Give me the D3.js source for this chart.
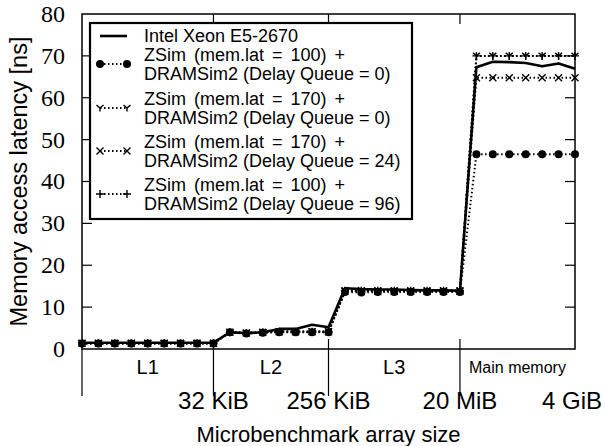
<!DOCTYPE html>
<html>
<head>
<meta charset="utf-8">
<script src="https://cdn.jsdelivr.net/npm/d3@7"></script>
<style>
  body { margin: 0; background: #fff; }
  svg { display: block; }
  .sans { font-family: "Liberation Sans", sans-serif; }
  .serif { font-family: "Liberation Serif", serif; }
</style>
</head>
<body>
<svg id="chart" width="605" height="446"></svg>
<script>
// x positions are just sample indices (0..30), evenly spaced along the axis
const regions = ["L1", "L2", "L3", "Main memory"];
const boundaryIdx = [8, 15, 23, 30];
const boundaryLabels = ["32 KiB", "256 KiB", "20 MiB", "4 GiB"];
const yTicks = [0, 10, 20, 30, 40, 50, 60, 70, 80];

const seriesNames = [
    ["Intel Xeon E5-2670"],
    ["ZSim (mem.lat = 100) +", "DRAMSim2 (Delay Queue = 0)"],
    ["ZSim (mem.lat = 170) +", "DRAMSim2 (Delay Queue = 0)"],
    ["ZSim (mem.lat = 170) +", "DRAMSim2 (Delay Queue = 24)"],
    ["ZSim (mem.lat = 100) +", "DRAMSim2 (Delay Queue = 96)"]
];
const markers = ["none", "circle", "tri", "cross", "plus"];

const xeon = [1.5, 1.5, 1.5, 1.5, 1.5, 1.5, 1.5, 1.5, 1.5,
    4.0, 3.8, 4.0, 4.8, 4.8, 5.8, 5.2,
    14.5, 14.3, 14.2, 14.2, 14.1, 14.0, 14.0, 13.9,
    67.3, 68.6, 68.5, 68.3, 67.5, 68.2, 66.9];
const zsim100dq0 = [1.3, 1.3, 1.3, 1.3, 1.3, 1.3, 1.3, 1.3, 1.3,
    4.0, 3.7, 3.9, 4.0, 4.0, 4.0, 4.0,
    13.6, 13.5, 13.6, 13.6, 13.6, 13.6, 13.6, 13.6,
    46.5, 46.5, 46.5, 46.5, 46.5, 46.5, 46.5];
const zsim170dq0 = [1.4, 1.4, 1.4, 1.4, 1.4, 1.4, 1.4, 1.4, 1.4,
    4.0, 3.8, 4.0, 4.2, 4.2, 4.2, 4.2,
    14.0, 14.0, 14.0, 14.0, 14.0, 14.0, 14.0, 14.0,
    70.0, 70.0, 70.0, 70.0, 70.0, 70.0, 70.0];
const zsim170dq24 = [1.4, 1.4, 1.4, 1.4, 1.4, 1.4, 1.4, 1.4, 1.4,
    4.0, 3.8, 4.0, 4.1, 4.1, 4.1, 4.1,
    13.8, 13.8, 13.8, 13.8, 13.8, 13.8, 13.8, 13.8,
    64.8, 64.8, 64.8, 64.8, 64.8, 64.8, 64.8];
const zsim100dq96 = [1.4, 1.4, 1.4, 1.4, 1.4, 1.4, 1.4, 1.4, 1.4,
    4.0, 3.8, 4.0, 4.1, 4.1, 4.1, 4.1,
    13.9, 13.9, 13.9, 13.9, 13.9, 13.9, 13.9, 13.9,
    70.0, 70.0, 70.0, 70.0, 70.0, 70.0, 70.0];
const allSeries = [xeon, zsim100dq0, zsim170dq0, zsim170dq24, zsim100dq96];

const svg = d3.select("#chart");
const plotLeft = 82, plotRight = 575, plotTop = 14, plotBottom = 349;

const x = d3.scaleLinear().domain([0, 30]).range([plotLeft, plotRight]);
const y = d3.scaleLinear().domain([0, 80]).range([plotBottom, plotTop]);

function markerPath(type) {
    // small glyphs drawn around (0,0)
    if (type === "tri") return "M-3.5,-3L0,0L3.5,-3M0,0L0,3.5";
    if (type === "cross") return "M-3.5,-3.5L3.5,3.5M-3.5,3.5L3.5,-3.5";
    if (type === "plus") return "M-4,0L4,0M0,-4L0,4";
    return null;
}

function drawMarker(g, type, cx, cy) {
    if (type === "circle") {
        g.append("circle").attr("cx", cx).attr("cy", cy).attr("r", 4).attr("fill", "#000");
    } else if (type !== "none") {
        g.append("path").attr("d", markerPath(type))
            .attr("transform", "translate(" + cx + "," + cy + ")")
            .attr("fill", "none").attr("stroke", "#000").attr("stroke-width", 1.4);
    }
}

// y ticks on both sides
const tickG = svg.append("g");
yTicks.forEach(v => {
    if (v === 0 || v === 80) return;
    tickG.append("line").attr("x1", plotLeft).attr("x2", plotLeft + 10).attr("y1", y(v)).attr("y2", y(v))
        .attr("stroke", "#000").attr("stroke-width", 1.2);
    tickG.append("line").attr("x1", plotRight - 10).attr("x2", plotRight).attr("y1", y(v)).attr("y2", y(v))
        .attr("stroke", "#000").attr("stroke-width", 1.2);
});
svg.append("g").selectAll("text").data(yTicks).join("text")
    .attr("class", "serif")
    .attr("x", plotLeft - 17).attr("y", d => y(d))
    .attr("dy", "0.33em").attr("text-anchor", "end")
    .attr("font-size", 24).text(d => d);

// region boundary ticks (top inner, bottom inner + separator below)
boundaryIdx.slice(0, 3).forEach(i => {
    tickG.append("line").attr("x1", x(i)).attr("x2", x(i)).attr("y1", plotTop).attr("y2", plotTop + 10)
        .attr("stroke", "#000").attr("stroke-width", 1.2);
    tickG.append("line").attr("x1", x(i)).attr("x2", x(i)).attr("y1", plotBottom - 10).attr("y2", 396)
        .attr("stroke", "#000").attr("stroke-width", 1.2);
});
tickG.append("line").attr("x1", plotLeft).attr("x2", plotLeft).attr("y1", plotBottom).attr("y2", 396)
    .attr("stroke", "#000").attr("stroke-width", 1.2);

// series
const line = d3.line().x((d, i) => x(i)).y(d => y(d));
const seriesG = svg.append("g");
allSeries.forEach((vals, k) => {
    seriesG.append("path").datum(vals)
        .attr("d", line)
        .attr("fill", "none").attr("stroke", "#000")
        .attr("stroke-width", k === 0 ? 2.6 : 2)
        .attr("stroke-dasharray", k === 0 ? null : "1.5,2.5")
        .attr("stroke-linejoin", "round");
    vals.forEach((v, i) => drawMarker(seriesG, markers[k], x(i), y(v)));
});

// frame
svg.append("rect").attr("x", plotLeft).attr("y", plotTop)
    .attr("width", plotRight - plotLeft).attr("height", plotBottom - plotTop)
    .attr("fill", "none").attr("stroke", "#000").attr("stroke-width", 1.5);

// region labels
const regionCenters = regions.map((r, i) => (x(i === 0 ? 0 : boundaryIdx[i - 1]) + x(boundaryIdx[i])) / 2);
svg.append("g").selectAll("text").data(regions).join("text")
    .attr("class", "sans")
    .attr("x", (d, i) => regionCenters[i]).attr("y", 367).attr("dy", "0.35em")
    .attr("text-anchor", "middle")
    .attr("font-size", (d, i) => i === 3 ? 16 : 20).text(d => d);

svg.append("g").selectAll("text").data(boundaryLabels).join("text")
    .attr("class", "sans")
    .attr("x", (d, i) => x(boundaryIdx[i]) - (i === 3 ? 3 : 0)).attr("y", 401).attr("dy", "0.35em")
    .attr("text-anchor", "middle").attr("font-size", 24).text(d => d);

// axis titles
svg.append("text").attr("class", "sans")
    .attr("x", (plotLeft + plotRight) / 2).attr("y", 434).attr("dy", "0.35em")
    .attr("text-anchor", "middle").attr("font-size", 22)
    .text("Microbenchmark array size");
svg.append("text").attr("class", "sans")
    .attr("transform", "translate(19," + ((plotTop + plotBottom) / 2) + ") rotate(-90)")
    .attr("dy", "0.35em").attr("text-anchor", "middle").attr("font-size", 23.5)
    .text("Memory access latency [ns]");

// legend
const legend = svg.append("g");
legend.append("rect").attr("x", 90).attr("y", 23).attr("width", 322).attr("height", 196)
    .attr("fill", "#fff").attr("stroke", "#000").attr("stroke-width", 2.2);
const entryY = [36, 64, 108, 151, 194];
seriesNames.forEach((lines, k) => {
    const cy = entryY[k];
    legend.append("line").attr("x1", 100).attr("x2", 127).attr("y1", cy).attr("y2", cy)
        .attr("stroke", "#000").attr("stroke-width", k === 0 ? 2.6 : 2)
        .attr("stroke-dasharray", k === 0 ? null : "1.5,2.5");
    if (k > 0) {
        drawMarker(legend, markers[k], 100, cy);
        drawMarker(legend, markers[k], 127, cy);
    }
    const t = legend.append("text").attr("class", "sans").attr("font-size", 18);
    lines.forEach((s, j) => {
        t.append("tspan").attr("x", 144)
            .attr("y", lines.length === 1 ? cy : cy - 9.5 + j * 19)
            .attr("dy", "0.35em")
            .attr("word-spacing", j === 0 && lines.length > 1 ? 3 : 0)
            .text(s);
    });
});
</script>
</body>
</html>
